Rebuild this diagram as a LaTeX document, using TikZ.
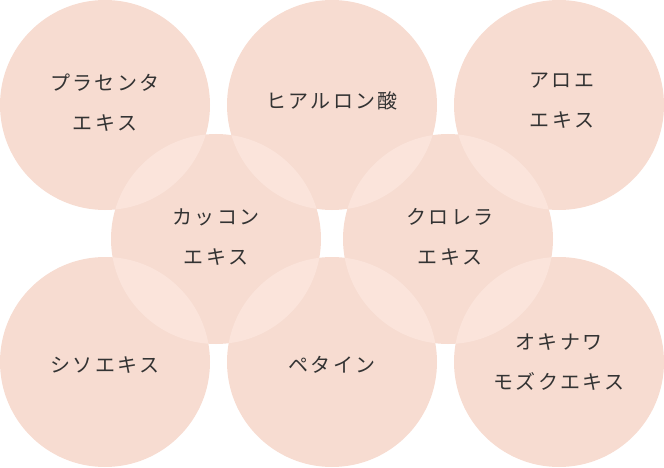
\documentclass[tikz,border=0pt]{standalone}
\usepackage{fontspec}
\newfontfamily\jp[LetterSpace=12]{Noto Sans CJK JP}
\definecolor{cfill}{HTML}{F7DCD1}
\definecolor{clight}{HTML}{FBE4DB}
\definecolor{ctext}{HTML}{333333}
\tikzset{circ/.style={fill=cfill,draw=none},
lbl/.style={font=\jp\fontsize{20}{40}\selectfont,text=ctext,align=center,inner sep=0pt}}
\begin{document}
\begin{tikzpicture}[x=1pt,y=-1pt]
\useasboundingbox (0,0) rectangle (664,468);
\foreach \n/\x/\y in {a/105/105,b/332/105,c/559/105,d/216/239,e/448/239,f/105/362,g/332/362,h/559/362}{
  \fill[circ] (\x,\y) circle (105);
  \coordinate (\n) at (\x,\y);
}
\foreach \m/\mx/\my in {d/216/239,e/448/239}{
  \foreach \x/\y in {105/105,332/105,559/105,105/362,332/362,559/362}{
    \begin{scope}
      \clip (\mx,\my) circle (105);
      \fill[clight] (\x,\y) circle (105);
    \end{scope}
  }
}
\node[lbl] (ta) at (105,103) {プラセンタ\\エキス};
\node[lbl] (tb) at (332,101) {ヒアルロン酸};
\node[lbl] (tc) at (562,101) {アロエ\\エキス};
\node[lbl] (td) at (216,237) {カッコン\\エキス};
\node[lbl] (te) at (450,237) {クロレラ\\エキス};
\node[lbl] (tf) at (105,365) {シソエキス};
\node[lbl] (tg) at (332,365) {ペタイン};
\node[lbl] (th) at (559,362) {オキナワ\\モズクエキス};
\end{tikzpicture}
\end{document}
